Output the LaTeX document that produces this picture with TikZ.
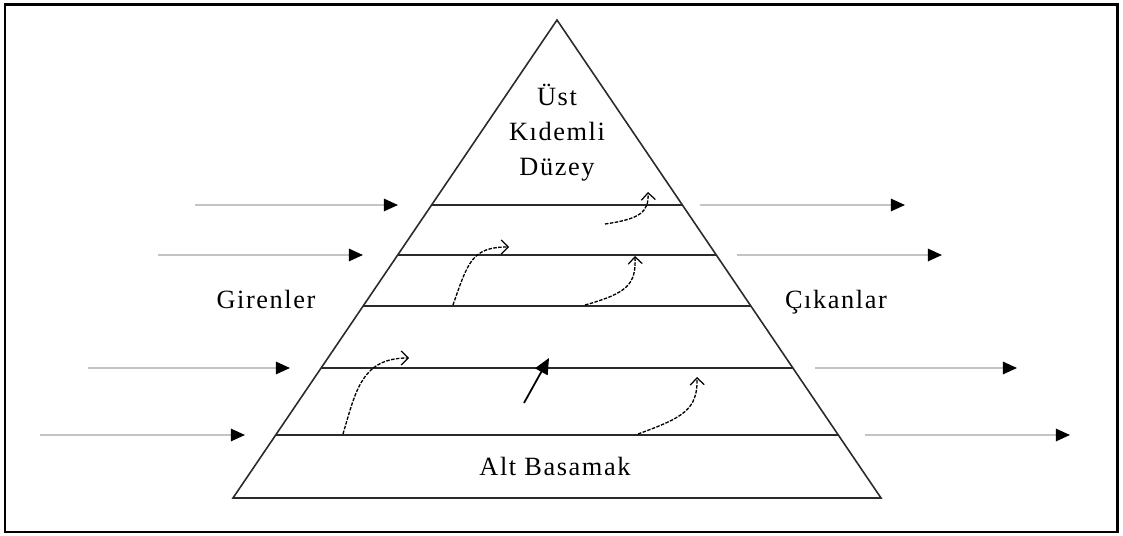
\documentclass[tikz,border=0pt]{standalone}
\usepackage{fontspec}
\setmainfont{Liberation Serif}
\newfontfamily\lblfont[LetterSpace=6]{Liberation Serif}
\usetikzlibrary{arrows.meta,calc}
\definecolor{flow}{HTML}{C4C4C4}
\definecolor{edge}{HTML}{2A2A2A}
\tikzset{
  tier/.style={draw=edge,line width=0.9pt},
  lbl/.style={font=\lblfont\fontsize{15}{20}\selectfont,align=center,inner sep=0pt},
  side/.style={draw=flow,line width=1.1pt,-{Triangle[length=8pt,width=7pt,fill=black,color=black]}},
  move/.style={draw=black,line width=0.75pt,dash pattern=on 2pt off 0.8pt,-{Straight Barb[length=4pt,width=8pt,line width=0.7pt]}},
}

\begin{document}
\begin{tikzpicture}[x=0.02cm,y=-0.02cm]
  \useasboundingbox (0,0) rectangle (1123,536);
  \draw[line width=1.7pt] (5,5) rectangle (1117,532);

  % ---- pyramid and its tiers
  \coordinate (top) at (557,20);
  \coordinate (bl) at (233,498);
  \coordinate (br) at (881,498);
  \draw[tier] (top) -- (bl) -- (br) -- cycle;
  \foreach \t [count=\i] in {0.387,0.4916,0.598,0.728,0.868} {
    \coordinate (l\i) at ($(top)!\t!(bl)$);
    \coordinate (r\i) at ($(top)!\t!(br)$);
    \draw[tier] (l\i) -- (r\i);
  }

  % ---- labels
  \node[lbl] (ust) at (557,133) {Üst\\Kıdemli\\Düzey};
  \node[lbl,anchor=base] (gir) at (266,309) {Girenler};
  \node[lbl,anchor=base] (cik) at (836,309) {Çıkanlar};
  \node[lbl,anchor=base] (alt) at (555,476) {Alt Basamak};

  % ---- entries (left) and exits (right)
  \foreach \a/\b/\y [count=\i] in {195/398/205,158/363/255,88/290/368,40/245/435} {
    \coordinate (ina\i) at (\a,\y);
    \coordinate (inb\i) at (\b,\y);
    \draw[side] (ina\i) -- (inb\i);
  }
  \foreach \a/\b/\y [count=\i] in {700/905/205,737/942/255,815/1017/368,865/1070/435} {
    \coordinate (outa\i) at (\a,\y);
    \coordinate (outb\i) at (\b,\y);
    \draw[side] (outa\i) -- (outb\i);
  }

  % ---- movement between tiers
  \coordinate (m1a) at (605,224); \coordinate (m1b) at (648,192);
  \coordinate (m2a) at (453,305); \coordinate (m2b) at (509,247);
  \coordinate (m3a) at (585,305); \coordinate (m3b) at (635,256);
  \coordinate (m4a) at (343,434); \coordinate (m4b) at (409,358);
  \coordinate (m5a) at (524,403); \coordinate (m5b) at (549,358);
  \coordinate (m6a) at (638,434); \coordinate (m6b) at (697,377);
  \draw[move] (m1a) .. controls (640,219) and (649,212) .. (m1b);
  \draw[move] (m2a) .. controls (468,262) and (472,247) .. (m2b);
  \draw[move] (m3a) .. controls (628,293) and (636,284) .. (m3b);
  \draw[move] (m4a) .. controls (356,390) and (362,358) .. (m4b);
  \draw[move] (m6a) .. controls (682,418) and (698,410) .. (m6b);
  \draw[line width=1pt,-{Triangle[length=9pt,width=8pt]}] (m5a) -- (m5b);
\end{tikzpicture}
\end{document}
